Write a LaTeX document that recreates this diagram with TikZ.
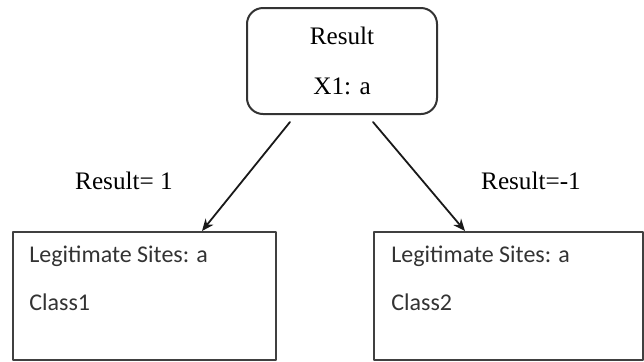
\documentclass[tikz,border=0pt]{standalone}
\usepackage{fontspec}
\setmainfont{Liberation Serif}
\newfontfamily\calibri{Carlito}
\usetikzlibrary{arrows.meta,positioning}

\begin{document}
\begin{tikzpicture}[x=0.5pt,y=-0.5pt,line join=round,line cap=round,>={Stealth[length=6pt,width=5pt]},font=\fontsize{12.6}{14}\selectfont]
	\useasboundingbox (0,0) rectangle (644,361);
	\tikzset{
		resbox/.style={draw=black!80,line width=1pt,rounded corners=8pt,minimum width=95pt,minimum height=53pt,align=center,inner sep=0pt,font=\fontsize{12.6}{25}\selectfont},
		classbox/.style={draw=black!75,line width=1pt,minimum height=64pt,inner sep=0pt},
		classtext/.style={anchor=north west,align=left,inner sep=0pt,text=black!80,font=\calibri\fontsize{12}{24}\selectfont},
		branch/.style={->,line width=0.9pt,black!90}
	}
	% decision node
	\node[resbox] (res) at (342,61) {Result\\X1: a};
	
	% leaves
	\node[classbox,minimum width=131.5pt] (c1) at (144.5,296) {};
	\node[classbox,minimum width=134.5pt] (c2) at (508.5,296) {};
	\node[classtext] (t1) at ([shift={(17,14)}]c1.north west) {Legitimate Sites: a\\Class1};
	\node[classtext] (t2) at ([shift={(18,14)}]c2.north west) {Legitimate Sites: a\\Class2};
	
	% branches
	\draw[branch] ([shift={(-52,7)}]res.south) -- ([shift={(57.5,0)}]c1.north);
	\draw[branch] ([shift={(31,7)}]res.south) -- ([shift={(-43.5,0)}]c2.north);
	\node (l1) at (124,181) {Result= 1};
	\node (l2) at (531,181) {Result=-1};
\end{tikzpicture}
\end{document}
